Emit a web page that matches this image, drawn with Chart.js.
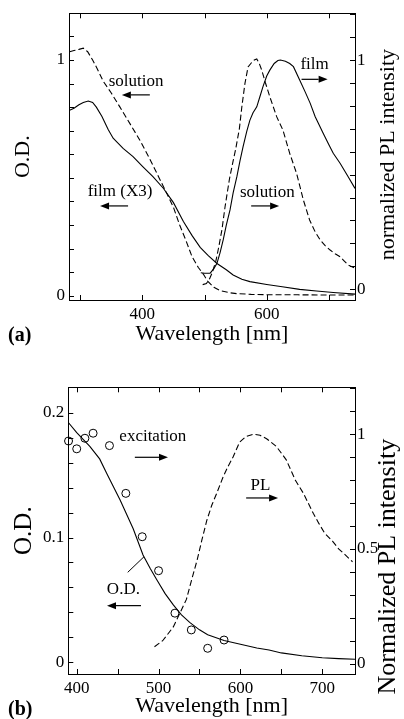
<!DOCTYPE html>
<html><head><meta charset="utf-8">
<script src="https://cdn.jsdelivr.net/npm/chart.js@4.4.1/dist/chart.umd.min.js"></script>
<style>
html,body{margin:0;padding:0;background:#fff;}
#wrap{position:relative;width:404px;height:719px;overflow:hidden;background:#fff;}
canvas{position:absolute;left:0;}
#ca{top:0;}
#cb{top:352px;}
</style></head><body>
<div id="wrap"><canvas id="ca" width="404" height="352"></canvas><canvas id="cb" width="404" height="367"></canvas></div>
<script>
// ---------- Panel (a) data ----------
const aSolAbsNm = [283,290,298,305,312,320,327,337,350,364,380,396,412,426,440,450,460,470,480,490,498,505,515,525,540,552,575,605,650,700,742];
const aSolAbsOD = [1.035,1.04,1.045,1.05,1.035,1.0,0.965,0.91,0.86,0.80,0.73,0.66,0.58,0.505,0.43,0.375,0.30,0.235,0.165,0.12,0.092,0.062,0.036,0.022,0.013,0.009,0.006,0.004,0.004,0.003,0.003];
const aFilmAbsNm = [283,290,298,305,313,320,326,335,345,353,369,385,401,417,434,450,466,480,493,506,520,535,546,560,573,600,625,653,680,707,742];
const aFilmAbsOD = [0.787,0.795,0.81,0.82,0.826,0.82,0.80,0.76,0.705,0.668,0.625,0.59,0.547,0.505,0.455,0.395,0.315,0.255,0.205,0.17,0.137,0.11,0.088,0.07,0.06,0.048,0.038,0.027,0.02,0.014,0.007];
const aSolPlNm = [497,503,508,512,518,523,528,533,540,546,550,556,560,565,570,576,580,584,588,592,598,605,616,626,637,648,659,669,678,686,694,702,710,718,724,731,742];
const aSolPl = [0.02,0.025,0.045,0.07,0.12,0.186,0.26,0.36,0.48,0.56,0.61,0.70,0.796,0.898,0.97,0.99,1.0,1.005,0.985,0.956,0.9,0.84,0.753,0.695,0.593,0.506,0.389,0.302,0.25,0.215,0.19,0.171,0.155,0.142,0.125,0.106,0.092];
const aFilmPlNm = [494,500,509,515,520,525,530,535,541,546,552,557,562,568,573,578,584,589,594,600,605,612,618,622,630,637,643,653,662,670,678,691,700,707,718,731,742];
const aFilmPl = [0.072,0.07,0.07,0.09,0.113,0.16,0.215,0.28,0.346,0.42,0.491,0.56,0.622,0.69,0.738,0.77,0.796,0.84,0.884,0.93,0.956,0.985,0.998,1.0,0.995,0.985,0.971,0.913,0.86,0.811,0.753,0.68,0.63,0.593,0.55,0.491,0.44];
// ticks (a)
const aXTicks = [300,400,500,600,700];
const aXLabels = ['','400','','600',''];
const aYTicks = [0,0.1,0.2,0.3,0.4,0.5,0.6,0.7,0.8,0.9,1.0,1.1];
const aYLabels = ['0','','','','','','','','','','1',''];
const aY2Ticks = [0,0.1,0.2,0.3,0.4,0.5,0.6,0.7,0.8,0.9,1.0,1.1,1.2];
const aY2Labels = ['0','','','','','','','','','','1','',''];

// ---------- Panel (b) data ----------
const bOdNm = [390,400,416,428,437,453,469,481,490,498,508,518,528,538,550,560,580,600,620,635,650,675,700,720,740];
const bOd = [0.192,0.184,0.173,0.163,0.151,0.130,0.107,0.086,0.075,0.066,0.055,0.046,0.038,0.032,0.026,0.022,0.0175,0.0145,0.0115,0.0098,0.0075,0.0052,0.0036,0.0029,0.0024];
const bExcNm = [390,400,410,420,440,460,480,500,520,540,560,580];
const bExc = [0.970,0.936,0.982,1.004,0.950,0.742,0.553,0.405,0.220,0.147,0.067,0.103];
const bPlNm = [495,505,518,526,534,540,547,553,559,565,571,579,585,591,599,607,616,624,632,644,656,662,667,677,689,696,703,713,720,726,737];
const bPl = [0.074,0.10,0.16,0.22,0.28,0.36,0.45,0.54,0.625,0.69,0.742,0.815,0.86,0.90,0.965,0.99,1.0,0.995,0.98,0.946,0.888,0.84,0.80,0.742,0.655,0.61,0.568,0.532,0.50,0.481,0.444];
// ticks (b)
const bXTicks = [400,450,500,550,600,650,700];
const bXLabels = ['400','','500','','600','','700'];
const bYTicks = [0,0.02,0.04,0.06,0.08,0.1,0.12,0.14,0.16,0.18,0.2];
const bYLabels = ['0','','','','','0.1','','','','','0.2'];
const bY2Ticks = [0,0.1,0.2,0.3,0.4,0.5,0.6,0.7,0.8,0.9,1.0,1.1,1.2];
const bY2Labels = ['0','','','','','0.5','','','','','1','',''];

// ---------- helpers ----------
const SERIF = "'Liberation Serif', 'Times New Roman', serif";
const pts = (xs, ys) => xs.map((v, i) => ({x: v, y: ys[i]}));

function scale(o) {
  return {
    type: 'linear', axis: o.axis, position: o.position, min: o.min, max: o.max,
    afterBuildTicks: s => { s.ticks = o.values.map(v => ({value: v})); },
    afterFit: s => {
      if (o.axis === 'x') s.height = o.size; else s.width = o.size;
      s.paddingTop = 0; s.paddingBottom = 0; s.paddingLeft = 0; s.paddingRight = 0;
    },
    ticks: {
      display: !!o.labels, autoSkip: false, maxRotation: 0, minRotation: 0,
      padding: o.labelPad || 0, color: '#000', font: {family: SERIF, size: 17},
      callback: (v, i) => o.labels ? o.labels[i] : ''
    },
    grid: {display: false, drawOnChartArea: false, drawTicks: false},
    border: {display: true, color: '#000', width: 1},
    title: o.title ? {display: true, text: o.title, color: '#000',
      font: {family: SERIF, size: o.titleSize || 22}, padding: o.titlePad} : {display: false}
  };
}

// inward tick marks, positioned through each scale
function drawInTicks(chart) {
  const {ctx, chartArea: ca} = chart;
  const L = 5;
  ctx.save(); ctx.strokeStyle = '#000'; ctx.lineWidth = 1;
  for (const id of Object.keys(chart.scales)) {
    const s = chart.scales[id];
    const pos = s.options.position;
    for (const t of s.ticks) {
      const p = Math.round(s.getPixelForValue(t.value)) + 0.5;
      ctx.beginPath();
      if (pos === 'bottom') { ctx.moveTo(p, ca.bottom); ctx.lineTo(p, ca.bottom - L); }
      else if (pos === 'top') { ctx.moveTo(p, ca.top); ctx.lineTo(p, ca.top + L); }
      else if (pos === 'left') { ctx.moveTo(ca.left, p); ctx.lineTo(ca.left + L, p); }
      else { ctx.moveTo(ca.right, p); ctx.lineTo(ca.right - L, p); }
      ctx.stroke();
    }
  }
  ctx.restore();
}

function drawArrow(ctx, x1, x2, y) {
  const dir = x2 > x1 ? 1 : -1;
  const head = 9, hw = 3.5;
  ctx.beginPath();
  ctx.moveTo(x1, y); ctx.lineTo(x2 - dir * head, y);
  ctx.lineWidth = 1.2; ctx.stroke();
  ctx.beginPath();
  ctx.moveTo(x2, y); ctx.lineTo(x2 - dir * head, y - hw); ctx.lineTo(x2 - dir * head, y + hw);
  ctx.closePath(); ctx.fill();
}

const annotPlugin = {
  id: 'annot',
  afterDraw(chart, args, opts) {
    const {ctx, chartArea} = chart;
    drawInTicks(chart);
    const x = chart.scales.x, y = chart.scales.y;
    ctx.save();
    ctx.fillStyle = '#000'; ctx.strokeStyle = '#000';
    ctx.font = '17px ' + SERIF;
    ctx.textAlign = 'center'; ctx.textBaseline = 'middle';
    for (const t of opts.texts) ctx.fillText(t[0], x.getPixelForValue(t[1]), y.getPixelForValue(t[2]));
    for (const a of opts.arrows) drawArrow(ctx, x.getPixelForValue(a[0]), x.getPixelForValue(a[1]), y.getPixelForValue(a[2]));
    if (opts.pointer) {
      const p = opts.pointer;
      ctx.beginPath(); ctx.lineWidth = 1;
      ctx.moveTo(x.getPixelForValue(p[0]), y.getPixelForValue(p[1]));
      ctx.lineTo(x.getPixelForValue(p[2]), y.getPixelForValue(p[3]));
      ctx.stroke();
    }
    // right axis title (reads bottom-to-top)
    ctx.save();
    ctx.translate(opts.rtX, (chartArea.top + chartArea.bottom) / 2 + opts.rtShift);
    ctx.rotate(-Math.PI / 2);
    ctx.font = opts.rtSize + 'px ' + SERIF;
    ctx.fillText(opts.rightTitle, 0, 0);
    ctx.restore();
    // panel label
    ctx.font = 'bold 20px ' + SERIF;
    ctx.textAlign = 'left'; ctx.textBaseline = 'alphabetic';
    ctx.fillText(opts.panel, 8, opts.panelY);
    ctx.restore();
  }
};

const lineDs = (xs, ys, dashed, yAxisID) => ({
  data: pts(xs, ys), yAxisID, xAxisID: 'x', borderColor: '#000', borderWidth: 1.1,
  borderDash: dashed ? [6, 3] : [], pointRadius: 0, tension: 0, fill: false
});

// ---------- Chart (a) ----------
new Chart(document.getElementById('ca'), {
  type: 'line',
  data: {datasets: [
    lineDs(aSolAbsNm, aSolAbsOD, true, 'y'),
    lineDs(aFilmAbsNm, aFilmAbsOD, false, 'y'),
    lineDs(aSolPlNm, aSolPl, true, 'y2'),
    lineDs(aFilmPlNm, aFilmPl, false, 'y2')
  ]},
  options: {
    responsive: false, animation: false, devicePixelRatio: 1, events: [],
    layout: {padding: {top: 13.3, left: 0, right: 0, bottom: 0}},
    plugins: {legend: {display: false}, tooltip: {enabled: false},
      annot: {
        texts: [['solution', 390, 0.907], ['film (X3)', 364, 0.44], ['film', 677, 0.979], ['solution', 601, 0.436]],
        arrows: [[412, 367, 0.852], [377, 332, 0.381], [656, 698, 0.918], [575, 620, 0.381]],
        rightTitle: 'normalized PL intensity', rtX: 388, rtShift: -2, rtSize: 22,
        panel: '(a)', panelY: 341
      }},
    scales: {
      x: scale({axis: 'x', position: 'bottom', min: 282, max: 742, values: aXTicks, labels: aXLabels, size: 52, labelPad: 4,
        title: 'Wavelength [nm]', titlePad: {top: 0, bottom: 5}}),
      xTop: scale({axis: 'x', position: 'top', min: 282, max: 742, values: aXTicks, size: 0}),
      y: scale({axis: 'y', position: 'left', min: -0.018, max: 1.198, values: aYTicks, labels: aYLabels, size: 69, labelPad: 4,
        title: 'O.D.', titlePad: {top: 10, bottom: 0}}),
      y2: scale({axis: 'y', position: 'right', min: -0.047, max: 1.204, values: aY2Ticks, labels: aY2Labels, size: 49, labelPad: 2})
    }
  },
  plugins: [annotPlugin]
});

// ---------- Chart (b) ----------
new Chart(document.getElementById('cb'), {
  type: 'line',
  data: {datasets: [
    lineDs(bOdNm, bOd, false, 'y'),
    lineDs(bPlNm, bPl, true, 'y2'),
    {data: pts(bExcNm, bExc), yAxisID: 'y2', xAxisID: 'x', showLine: false, pointRadius: 4, pointStyle: 'circle',
      pointBorderColor: '#000', pointBackgroundColor: 'rgba(0,0,0,0)', pointBorderWidth: 1, borderColor: '#000', clip: false}
  ]},
  options: {
    responsive: false, animation: false, devicePixelRatio: 1, events: [],
    layout: {padding: {top: 35.3, left: 0, right: 0, bottom: 0}},
    plugins: {legend: {display: false}, tooltip: {enabled: false},
      annot: {
        texts: [['excitation', 493, 0.1813], ['PL', 624.5, 0.1413], ['O.D.', 457, 0.0587]],
        arrows: [[471, 511.5, 0.1643], [607, 646, 0.1317], [478.5, 437, 0.0454]],
        pointer: [462.3, 0.0721, 482.2, 0.0846],
        rightTitle: 'Normalized PL intensity', rtX: 388, rtShift: 36, rtSize: 26,
        panel: '(b)', panelY: 363
      }},
    scales: {
      x: scale({axis: 'x', position: 'bottom', min: 389.7, max: 740, values: bXTicks, labels: bXLabels, size: 45, labelPad: 4,
        title: 'Wavelength [nm]', titlePad: {top: 0, bottom: 0}}),
      xTop: scale({axis: 'x', position: 'top', min: 389.7, max: 740, values: bXTicks, size: 0}),
      y: scale({axis: 'y', position: 'left', min: -0.0094, max: 0.2204, values: bYTicks, labels: bYLabels, size: 68.3, labelPad: 4,
        title: 'O.D.', titlePad: {top: 9, bottom: 0}, titleSize: 25}),
      y2: scale({axis: 'y', position: 'right', min: -0.045, max: 1.204, values: bY2Ticks, labels: bY2Labels, size: 49, labelPad: 2})
    }
  },
  plugins: [annotPlugin]
});
</script>
</body></html>
